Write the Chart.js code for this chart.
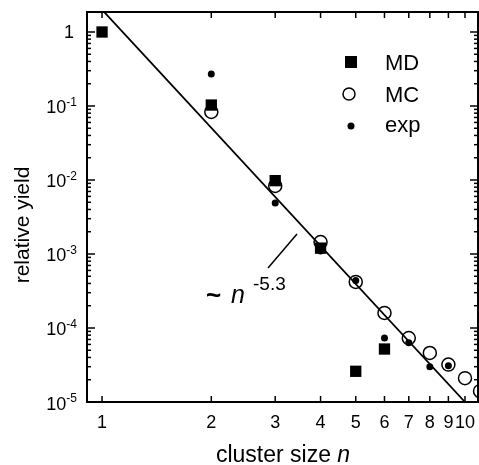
<!DOCTYPE html>
<html>
<head>
<meta charset="utf-8">
<script src="https://cdn.jsdelivr.net/npm/chart.js@4.4.1/dist/chart.umd.min.js"></script>
<style>
  html, body { margin: 0; padding: 0; background: #fff; }
</style>
</head>
<body>
<canvas id="yield-chart" width="479" height="465"></canvas>
<script>
// values (cluster size n -> relative yield)
const mdN = [1, 2, 3, 4, 5, 6];
const mdY = [1.0, 0.103, 0.0098, 0.0012, 2.6e-5, 5.2e-5];

const mcN = [2, 3, 4, 5, 6, 7, 8, 9, 10, 11];
const mcY = [0.083, 0.0083, 0.00145, 4.2e-4, 1.6e-4, 7.3e-5, 4.6e-5, 3.2e-5, 2.1e-5, 1.4e-5];

const expN = [1, 2, 3, 4, 5, 6, 7, 8, 9];
const expY = [1.0, 0.27, 0.0049, 0.0011, 4.4e-4, 7.3e-5, 6.3e-5, 3.0e-5, 3.1e-5];

// power law ~ n^-5.3, end points
const fitN = [1, 10];
const fitY = [2.0, 1.0e-5];

const xTicks = [1, 2, 3, 4, 5, 6, 7, 8, 9, 10];
const xTickLabels = ['1', '2', '3', '4', '5', '6', '7', '8', '9', '10'];
const yTicks = [1, 1e-1, 1e-2, 1e-3, 1e-4, 1e-5];
const yTickLabels = [['1', ''], ['10', '-1'], ['10', '-2'], ['10', '-3'], ['10', '-4'], ['10', '-5']];

const FONT = '"Liberation Sans", Arial, sans-serif';

function toPoints(xs, ys) {
  return xs.map((v, i) => ({ x: v, y: ys[i] }));
}

// frame and inward ticks on all four sides
const frameTicks = {
  id: 'frameTicks',
  afterDatasetsDraw(chart) {
    const { ctx, chartArea: a, scales: { x, y } } = chart;
    const seg = (x1, y1, x2, y2) => { ctx.beginPath(); ctx.moveTo(x1, y1); ctx.lineTo(x2, y2); ctx.stroke(); };
    ctx.save();
    ctx.strokeStyle = '#000';
    ctx.lineWidth = 1.5;
    xTicks.forEach(v => {
      const px = x.getPixelForValue(v);
      seg(px, a.bottom, px, a.bottom - 6);
      seg(px, a.top, px, a.top + 6);
    });
    yTicks.forEach(v => {
      for (let m = 1; m <= 9; m++) {
        const py = y.getPixelForValue(v * m);
        if (py < a.top || py > a.bottom) continue;
        const len = m === 1 ? 8 : 4;
        seg(a.left, py, a.left + len, py);
        seg(a.right, py, a.right - len, py);
      }
    });
    ctx.lineWidth = 2;
    ctx.strokeRect(a.left, a.top, a.width, a.height);
    ctx.restore();
  }
};

// tick labels, axis titles, legend and the n^-5.3 note
const labelsPlugin = {
  id: 'labelsPlugin',
  afterDraw(chart) {
    const { ctx, scales: { x, y } } = chart;
    ctx.save();
    ctx.fillStyle = '#000';
    ctx.strokeStyle = '#000';
    ctx.textBaseline = 'alphabetic';

    // x tick labels
    ctx.font = '18px ' + FONT;
    ctx.textAlign = 'center';
    xTicks.forEach((v, i) => {
      ctx.fillText(xTickLabels[i], x.getPixelForValue(v), 428);
    });

    // y tick labels with superscript exponent
    ctx.textAlign = 'right';
    yTicks.forEach((v, i) => {
      const py = y.getPixelForValue(v);
      const [base, sup] = yTickLabels[i];
      if (!sup) {
        ctx.font = '18px ' + FONT;
        ctx.fillText(base, 74, py + 6.5);
        return;
      }
      ctx.font = '12px ' + FONT;
      const sw = ctx.measureText(sup).width;
      ctx.fillText(sup, 77, py);
      ctx.font = '18px ' + FONT;
      ctx.fillText(base, 77 - sw, py + 7.5);
    });

    // axis titles
    ctx.textAlign = 'left';
    ctx.font = '23px ' + FONT;
    const t1 = 'cluster size ';
    const w1 = ctx.measureText(t1).width;
    ctx.font = 'italic 23px ' + FONT;
    const w2 = ctx.measureText('n').width;
    const x0 = 283 - (w1 + w2) / 2;
    ctx.font = '23px ' + FONT;
    ctx.fillText(t1, x0, 462);
    ctx.font = 'italic 23px ' + FONT;
    ctx.fillText('n', x0 + w1, 462);

    ctx.save();
    ctx.translate(29, 225);
    ctx.rotate(-Math.PI / 2);
    ctx.font = '21px ' + FONT;
    ctx.textAlign = 'center';
    ctx.fillText('relative yield', 0, 0);
    ctx.restore();

    // legend
    ctx.fillRect(345, 56, 12, 12);
    ctx.lineWidth = 1.5;
    ctx.beginPath(); ctx.arc(349, 94, 6, 0, Math.PI * 2); ctx.stroke();
    ctx.beginPath(); ctx.arc(351, 126, 3.5, 0, Math.PI * 2); ctx.fill();
    ctx.font = '22px ' + FONT;
    ctx.fillText('MD', 385, 70);
    ctx.fillText('MC', 385, 102);
    ctx.fillText('exp', 385, 132);

    // power law note
    ctx.lineWidth = 1.5;
    ctx.beginPath(); ctx.moveTo(268, 268); ctx.lineTo(297, 234); ctx.stroke();
    ctx.font = 'bold 26px ' + FONT;
    ctx.fillText('~', 206, 304);
    ctx.font = 'italic 25px ' + FONT;
    ctx.fillText('n', 231, 303);
    ctx.font = '19px ' + FONT;
    ctx.fillText('-5.3', 253, 290);

    ctx.restore();
  }
};

new Chart(document.getElementById('yield-chart'), {
  type: 'scatter',
  data: {
    datasets: [
      {
        label: '~ n^-5.3',
        type: 'line',
        data: toPoints(fitN, fitY),
        borderColor: '#000',
        borderWidth: 1.8,
        pointRadius: 0,
        fill: false,
        tension: 0,
      },
      {
        label: 'exp',
        data: toPoints(expN, expY),
        pointStyle: 'circle',
        pointRadius: 3.5,
        backgroundColor: '#000',
        borderColor: '#000',
        borderWidth: 0,
      },
      {
        label: 'MD',
        data: toPoints(mdN, mdY),
        pointStyle: 'rect',
        pointRadius: 8,
        backgroundColor: '#000',
        borderColor: '#000',
        borderWidth: 0,
      },
      {
        label: 'MC',
        data: toPoints(mcN, mcY),
        pointStyle: 'circle',
        pointRadius: 6.5,
        backgroundColor: 'rgba(0,0,0,0)',
        borderColor: '#000',
        borderWidth: 1.5,
      },
    ],
  },
  options: {
    responsive: false,
    animation: false,
    devicePixelRatio: 1,
    layout: {
      autoPadding: false,
      padding: { left: 87, top: 12, right: 1, bottom: 63 },
    },
    plugins: {
      legend: { display: false },
      tooltip: { enabled: false },
    },
    scales: {
      x: {
        type: 'logarithmic',
        display: false,
        min: 0.909,
        max: 10.86,
      },
      y: {
        type: 'logarithmic',
        display: false,
        min: 1e-5,
        max: 1.863,
      },
    },
  },
  plugins: [frameTicks, labelsPlugin],
});
</script>
</body>
</html>
